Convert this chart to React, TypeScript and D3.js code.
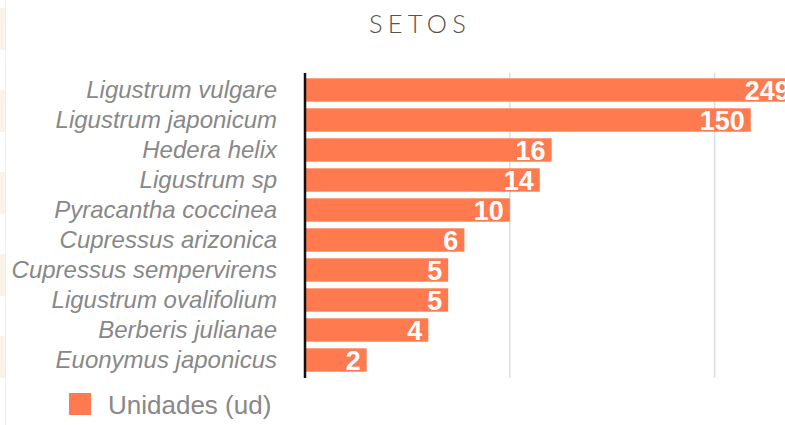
import React from "react";
import * as d3 from "d3";

const categories = [
  "Ligustrum vulgare",
  "Ligustrum japonicum",
  "Hedera helix",
  "Ligustrum sp",
  "Pyracantha coccinea",
  "Cupressus arizonica",
  "Cupressus sempervirens",
  "Ligustrum ovalifolium",
  "Berberis julianae",
  "Euonymus japonicus",
];
const values = [249, 150, 16, 14, 10, 6, 5, 5, 4, 2];
const gridTicks = [10, 100];
const title = "SETOS";
const seriesName = "Unidades (ud)";

const W = 785;
const H = 425;
const BAR = "#FF7A4F";

export default function App() {
  const x = d3.scaleLog().domain([1, 1000]).range([305, 919.5]);
  const y = d3.scaleBand<string>().domain(categories).range([75, 375]).paddingInner(0.22).paddingOuter(0.11);
  const stripes = d3.range(5);
  return (
    <svg width={W} height={H} style={{ position: "absolute", left: 0, top: 0, background: "#fff" }}>
      {stripes.map((i) => (
        <rect key={i} x={0} y={8 + i * 82} width={5} height={42} fill="#FAF3E8" />
      ))}
      <line x1={5.5} x2={5.5} y1={0} y2={H} stroke="#EEEEEE" strokeWidth={1} />
      <text x={420} y={33} textAnchor="middle" fontFamily="Lato" fontWeight={300} fontSize={25.5} letterSpacing={5.2} fill="#5B5247">
        {title}
      </text>
      {gridTicks.map((t) => (
        <line key={t} x1={x(t)} x2={x(t)} y1={73} y2={378} stroke="#DDDDDD" strokeWidth={1.5} />
      ))}
      {categories.map((c, i) => {
        const y0 = y(c)!;
        const bw = y.bandwidth();
        const xe = x(values[i]);
        return (
          <g key={c}>
            <rect x={x(1)} y={y0} width={xe - x(1)} height={bw} fill={BAR} />
            <text x={277} y={y0 + bw / 2 + 8} textAnchor="end" fontFamily="Liberation Sans" fontStyle="italic" fontSize={24} fill="#888888">
              {c}
            </text>
            <text x={xe - 6} y={y0 + bw / 2 + 10} textAnchor="end" fontFamily="Liberation Sans" fontWeight="bold" fontSize={27} fill="#FFFFFF">
              {values[i]}
            </text>
          </g>
        );
      })}
      <line x1={x(1)} x2={x(1)} y1={73} y2={378} stroke="#111111" strokeWidth={2.5} />
      <rect x={69} y={393} width={22} height={22} fill={BAR} />
      <text x={108} y={414} fontFamily="Liberation Sans" fontSize={26} fill="#888888">
        {seriesName}
      </text>
    </svg>
  );
}
